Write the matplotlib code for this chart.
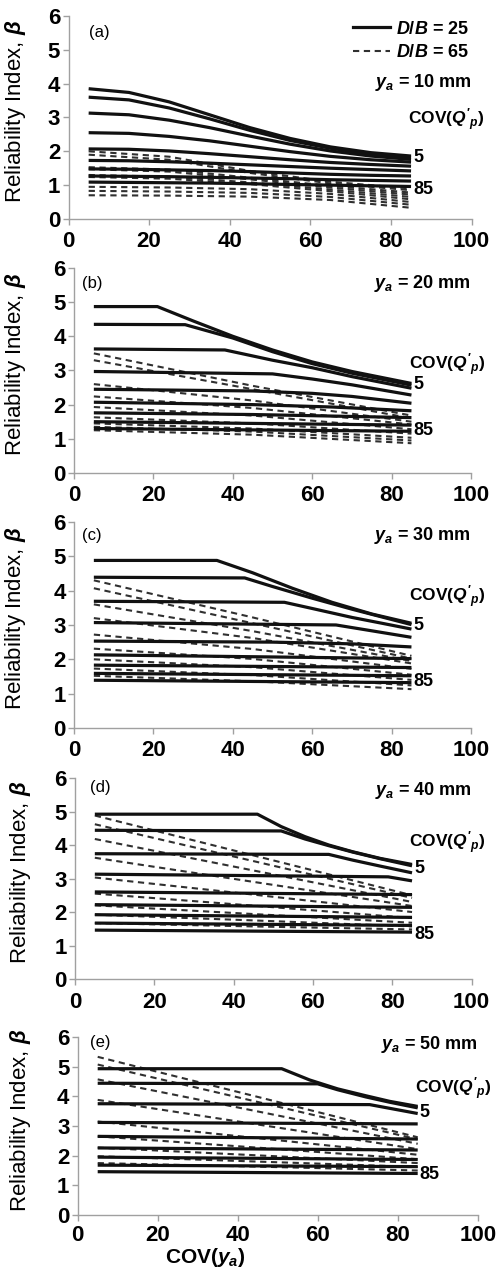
import matplotlib
matplotlib.use('Agg')
from matplotlib import pyplot as plt
from matplotlib.lines import Line2D

plt.rcParams['font.family'] = ['Liberation Sans', 'DejaVu Sans']
plt.rcParams['font.weight'] = 'bold'
plt.rcParams['mathtext.fontset'] = 'custom'
plt.rcParams['mathtext.it'] = 'Liberation Sans:italic:bold'
plt.rcParams['mathtext.rm'] = 'Liberation Sans:bold'
plt.rcParams['mathtext.bf'] = 'Liberation Sans:bold'
plt.rcParams['mathtext.cal'] = 'Liberation Sans:italic'

# COV(Q'p) = 5, 15, ..., 85 ; COV(ya) on x axis
ya_mm = [10, 20, 30, 40, 50]
panel_tags = ['(a)', '(b)', '(c)', '(d)', '(e)']

# panel (a), ya = 10 mm
a_solid_x = [5, 15, 25, 35, 45, 55, 65, 75, 85]
a_solid_y = [
    [3.85, 3.74, 3.46, 3.08, 2.70, 2.38, 2.13, 1.96, 1.86],
    [3.60, 3.52, 3.28, 2.96, 2.62, 2.32, 2.09, 1.92, 1.82],
    [3.13, 3.08, 2.92, 2.70, 2.45, 2.21, 2.01, 1.86, 1.76],
    [2.55, 2.53, 2.44, 2.31, 2.15, 1.99, 1.85, 1.75, 1.68],
    [2.07, 2.06, 2.01, 1.93, 1.84, 1.75, 1.67, 1.61, 1.56],
    [1.73, 1.72, 1.69, 1.65, 1.60, 1.55, 1.50, 1.46, 1.42],
    [1.48, 1.47, 1.45, 1.43, 1.40, 1.36, 1.32, 1.29, 1.27],
    [1.27, 1.26, 1.25, 1.23, 1.21, 1.19, 1.16, 1.14, 1.12],
    [1.09, 1.08, 1.07, 1.06, 1.04, 1.02, 1.00, 0.98, 0.96],
]
a_dash_x = [5, 25, 45, 65, 85]
a_dash_y = [
    [2.00, 1.84, 1.42, 1.10, 0.90],
    [1.90, 1.75, 1.36, 1.05, 0.85],
    [1.53, 1.46, 1.22, 0.98, 0.78],
    [1.47, 1.40, 1.17, 0.93, 0.72],
    [1.30, 1.25, 1.08, 0.87, 0.65],
    [1.24, 1.19, 1.03, 0.82, 0.58],
    [0.95, 0.93, 0.88, 0.74, 0.50],
    [0.83, 0.81, 0.77, 0.65, 0.42],
    [0.70, 0.69, 0.66, 0.56, 0.33],
]

# panel (b), ya = 20 mm
b_solid_x = [[5, 21, 30, 40, 50, 60, 70, 85], [5, 28, 40, 50, 60, 70, 85],
             [5, 38, 50, 60, 70, 85], [5, 50, 60, 70, 85], [5, 45, 60, 70, 85],
             [5, 45, 65, 85], [5, 45, 85], [5, 85], [5, 85]]
b_solid_y = [[4.87, 4.87, 4.45, 4.00, 3.60, 3.25, 2.97, 2.62],
             [4.35, 4.34, 3.95, 3.55, 3.20, 2.92, 2.57],
             [3.63, 3.60, 3.30, 3.08, 2.82, 2.48],
             [2.97, 2.90, 2.75, 2.58, 2.28],
             [2.45, 2.40, 2.33, 2.24, 2.04],
             [2.07, 2.00, 1.93, 1.82],
             [1.76, 1.71, 1.62],
             [1.50, 1.40],
             [1.30, 1.22]]
b_dash_x = [5, 45, 85]
b_dash_y = [[3.50, 2.55, 1.68], [3.30, 2.45, 1.60], [2.60, 2.12, 1.50],
            [2.24, 1.90, 1.42], [1.93, 1.68, 1.28], [1.63, 1.45, 1.15],
            [1.45, 1.30, 1.03], [1.35, 1.21, 0.95], [1.25, 1.12, 0.87]]

# panel (c), ya = 30 mm
c_solid_x = [[5, 36, 45, 55, 65, 75, 85], [5, 43, 50, 60, 70, 78, 85],
             [5, 53, 60, 70, 78, 85], [5, 66, 75, 85], [5, 50, 70, 85],
             [5, 85], [5, 85], [5, 85], [5, 85]]
c_solid_y = [[4.88, 4.88, 4.52, 4.07, 3.66, 3.32, 3.05],
             [4.39, 4.37, 4.12, 3.78, 3.46, 3.22, 3.01],
             [3.69, 3.66, 3.48, 3.22, 3.04, 2.88],
             [3.07, 3.00, 2.83, 2.64],
             [2.53, 2.50, 2.45, 2.36],
             [2.13, 2.02], [1.83, 1.76], [1.59, 1.52], [1.39, 1.32]]
c_dash_x = [5, 45, 85]
c_dash_y = [[4.30, 3.22, 2.10], [4.07, 3.05, 2.02], [3.60, 2.82, 1.95],
            [3.20, 2.62, 1.88], [2.72, 2.30, 1.72], [2.31, 2.01, 1.55],
            [2.00, 1.77, 1.40], [1.73, 1.54, 1.24], [1.52, 1.36, 1.13]]

# panel (d), ya = 40 mm
d_solid_x = [[5, 46, 52, 58, 64, 70, 77, 85], [5, 52, 58, 64, 70, 77, 85],
             [5, 64, 70, 77, 85], [5, 79, 85], [5, 85], [5, 85], [5, 85],
             [5, 85], [5, 85]]
d_solid_y = [[4.92, 4.92, 4.55, 4.25, 4.00, 3.80, 3.60, 3.42],
             [4.44, 4.42, 4.18, 3.98, 3.79, 3.59, 3.38],
             [3.74, 3.72, 3.55, 3.37, 3.17],
             [3.13, 3.05, 2.93],
             [2.60, 2.52], [2.22, 2.14], [1.92, 1.84], [1.67, 1.60], [1.46, 1.40]]
d_dash_x = [5, 45, 85]
d_dash_y = [[4.88, 3.69, 2.50], [4.62, 3.52, 2.42], [4.18, 3.24, 2.30],
            [3.62, 2.90, 2.18], [3.03, 2.52, 2.00], [2.55, 2.19, 1.82],
            [2.20, 1.94, 1.68], [1.92, 1.75, 1.57], [1.67, 1.57, 1.48]]

# panel (e), ya = 50 mm
e_solid_x = [[5, 51, 58, 65, 72, 78, 85], [5, 60, 65, 72, 78, 85],
             [5, 73, 79, 85], [5, 85], [5, 85], [5, 85], [5, 85], [5, 85], [5, 85]]
e_solid_y = [[4.93, 4.93, 4.55, 4.25, 4.02, 3.83, 3.66],
             [4.44, 4.42, 4.22, 3.98, 3.80, 3.61],
             [3.75, 3.72, 3.57, 3.42],
             [3.12, 3.07], [2.65, 2.56], [2.26, 2.19], [1.95, 1.87],
             [1.68, 1.63], [1.46, 1.40]]
e_dash_x = [5, 45, 85]
e_dash_y = [[5.33, 3.98, 2.62], [5.07, 3.81, 2.55], [4.57, 3.49, 2.40],
            [3.88, 3.05, 2.22], [3.15, 2.59, 2.03], [2.65, 2.27, 1.88],
            [2.27, 2.01, 1.75], [1.98, 1.80, 1.62], [1.75, 1.63, 1.50]]

solid_x = [[a_solid_x] * 9, b_solid_x, c_solid_x, d_solid_x, e_solid_x]
solid_y = [a_solid_y, b_solid_y, c_solid_y, d_solid_y, e_solid_y]
dash_x = [a_dash_x, b_dash_x, c_dash_x, d_dash_x, e_dash_x]
dash_y = [a_dash_y, b_dash_y, c_dash_y, d_dash_y, e_dash_y]

# axes boxes in figure fraction (left, bottom, width, height)
boxes = [(0.137, 0.8276, 0.806, 0.1598),
         (0.148, 0.6276, 0.794, 0.1614),
         (0.148, 0.4268, 0.794, 0.1622),
         (0.150, 0.2291, 0.793, 0.1583),
         (0.1554, 0.0433, 0.800, 0.1402)]
ylab_x = [-0.10, -0.115, -0.116, -0.106, -0.112]
tag_pos = [(5, 5.5), (2, 5.55), (2, 5.6), (3.8, 5.72), (3, 5.8)]
ya_y = [4.02, 5.55, 5.6, 5.62, 5.75]
cov_y = [2.92, 3.18, 3.82, 4.08, 4.25]
five_y = [1.82, 2.58, 2.98, 3.30, 3.45]
e85_y = [0.88, 1.23, 1.35, 1.33, 1.38]

grey = '#a0a0a0'
fig = plt.figure(figsize=(5, 12.7), dpi=100)

for i in range(5):
    ax = fig.add_axes(boxes[i])
    for ys in dash_y[i]:
        ax.plot(dash_x[i], ys, color='#303030', lw=1.5, dashes=(3, 2.2))
    for xs, ys in zip(solid_x[i], solid_y[i]):
        ax.plot(xs, ys, color='#111111', lw=2.3, solid_capstyle='butt')
    ax.set_xlim(0, 100)
    ax.set_ylim(0, 6)
    ax.set_xticks(range(0, 101, 20))
    ax.set_yticks(range(0, 7))
    for s in ['top', 'right']:
        ax.spines[s].set_visible(False)
    for s in ['left', 'bottom']:
        ax.spines[s].set_color(grey)
        ax.spines[s].set_linewidth(1.0)
    ax.tick_params(axis='both', direction='out', color=grey, length=4,
                   width=1.0, labelsize=16)
    ax.tick_params(axis='x', pad=5 if i < 4 else 3)
    ax.tick_params(axis='y', pad=2)
    ax.set_ylabel(r'Reliability Index, $\mathcal{β}$', fontsize=16,
                  fontweight='normal')
    ax.yaxis.set_label_coords(ylab_x[i], 0.53)
    ax.text(tag_pos[i][0], tag_pos[i][1], panel_tags[i], fontsize=12,
            fontweight='normal', va='center', ha='left')
    ax.text(100, ya_y[i], r'$y_a$ = %d mm' % ya_mm[i], fontsize=13,
            ha='right', va='center')
    ax.text(84.3, cov_y[i], r"COV($Q'_p$)", fontsize=12.5, ha='left',
            va='center', clip_on=False)
    ax.text(85.5, five_y[i], '5', fontsize=13, ha='left', va='center')
    ax.text(85.5, e85_y[i], '85', fontsize=13, ha='left', va='center')
    if i == 0:
        handles = [Line2D([], [], color='#111111', lw=2.3),
                   Line2D([], [], color='#303030', lw=1.5, dashes=(3, 2.2))]
        ax.legend(handles, [r'$D/B$ = 25', r'$D/B$ = 65'], loc='upper right',
                  bbox_to_anchor=(1.025, 1.04), frameon=False, fontsize=13,
                  handlelength=2.1, handletextpad=0.3, labelspacing=0.35,
                  borderpad=0.2)
    if i == 4:
        ax.set_xlabel(r'COV($y_a$)', fontsize=15, fontweight='bold')
        ax.xaxis.set_label_coords(0.32, -0.175)

fig.savefig('out.png', dpi=100)
